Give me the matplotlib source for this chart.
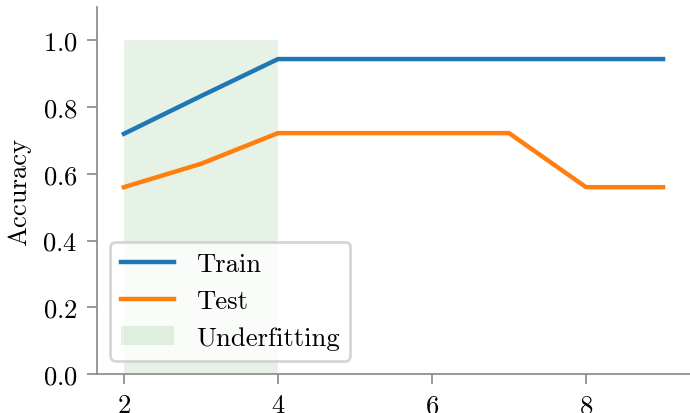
import matplotlib
matplotlib.use("Agg")
import matplotlib.pyplot as plt

# depth values and accuracies
depths = [2, 3, 4, 5, 6, 7, 8, 9]
train_acc = [0.72, 0.833, 0.944, 0.944, 0.944, 0.944, 0.944, 0.944]
test_acc = [0.56, 0.63, 0.722, 0.722, 0.722, 0.722, 0.56, 0.56]
underfit_range = [2, 4]
underfit_top = 1.0

plt.rcParams['font.family'] = 'serif'
plt.rcParams['font.serif'] = ['cmr10']
plt.rcParams['mathtext.fontset'] = 'cm'
plt.rcParams['axes.formatter.use_mathtext'] = True
plt.rcParams['font.size'] = 9.6

fig = plt.figure(figsize=(3.45, 2.07), dpi=200)
ax = fig.add_axes([97 / 690, 39 / 414, 593 / 690, 367 / 414])

ax.plot(depths, train_acc, color='#1f77b4', lw=1.6, label='Train')
ax.plot(depths, test_acc, color='#ff7f0e', lw=1.6, label='Test')
ax.fill_between(underfit_range, 0, underfit_top, color='green', alpha=0.1,
                lw=0, label='Underfitting')

ax.set_ylim(0, 1.1)
ax.set_ylabel('Accuracy')
ax.set_xticks([2, 4, 6, 8])
ax.set_yticks([0.0, 0.2, 0.4, 0.6, 0.8, 1.0])

# ── spine styling ──
for side in ['top', 'right']:
    ax.spines[side].set_visible(False)
for side in ['left', 'bottom']:
    ax.spines[side].set_color('#888888')
    ax.spines[side].set_linewidth(0.6)
ax.tick_params(color='#888888', width=0.6)

ax.legend(loc='lower left')

fig.savefig('out.png', dpi=200)
